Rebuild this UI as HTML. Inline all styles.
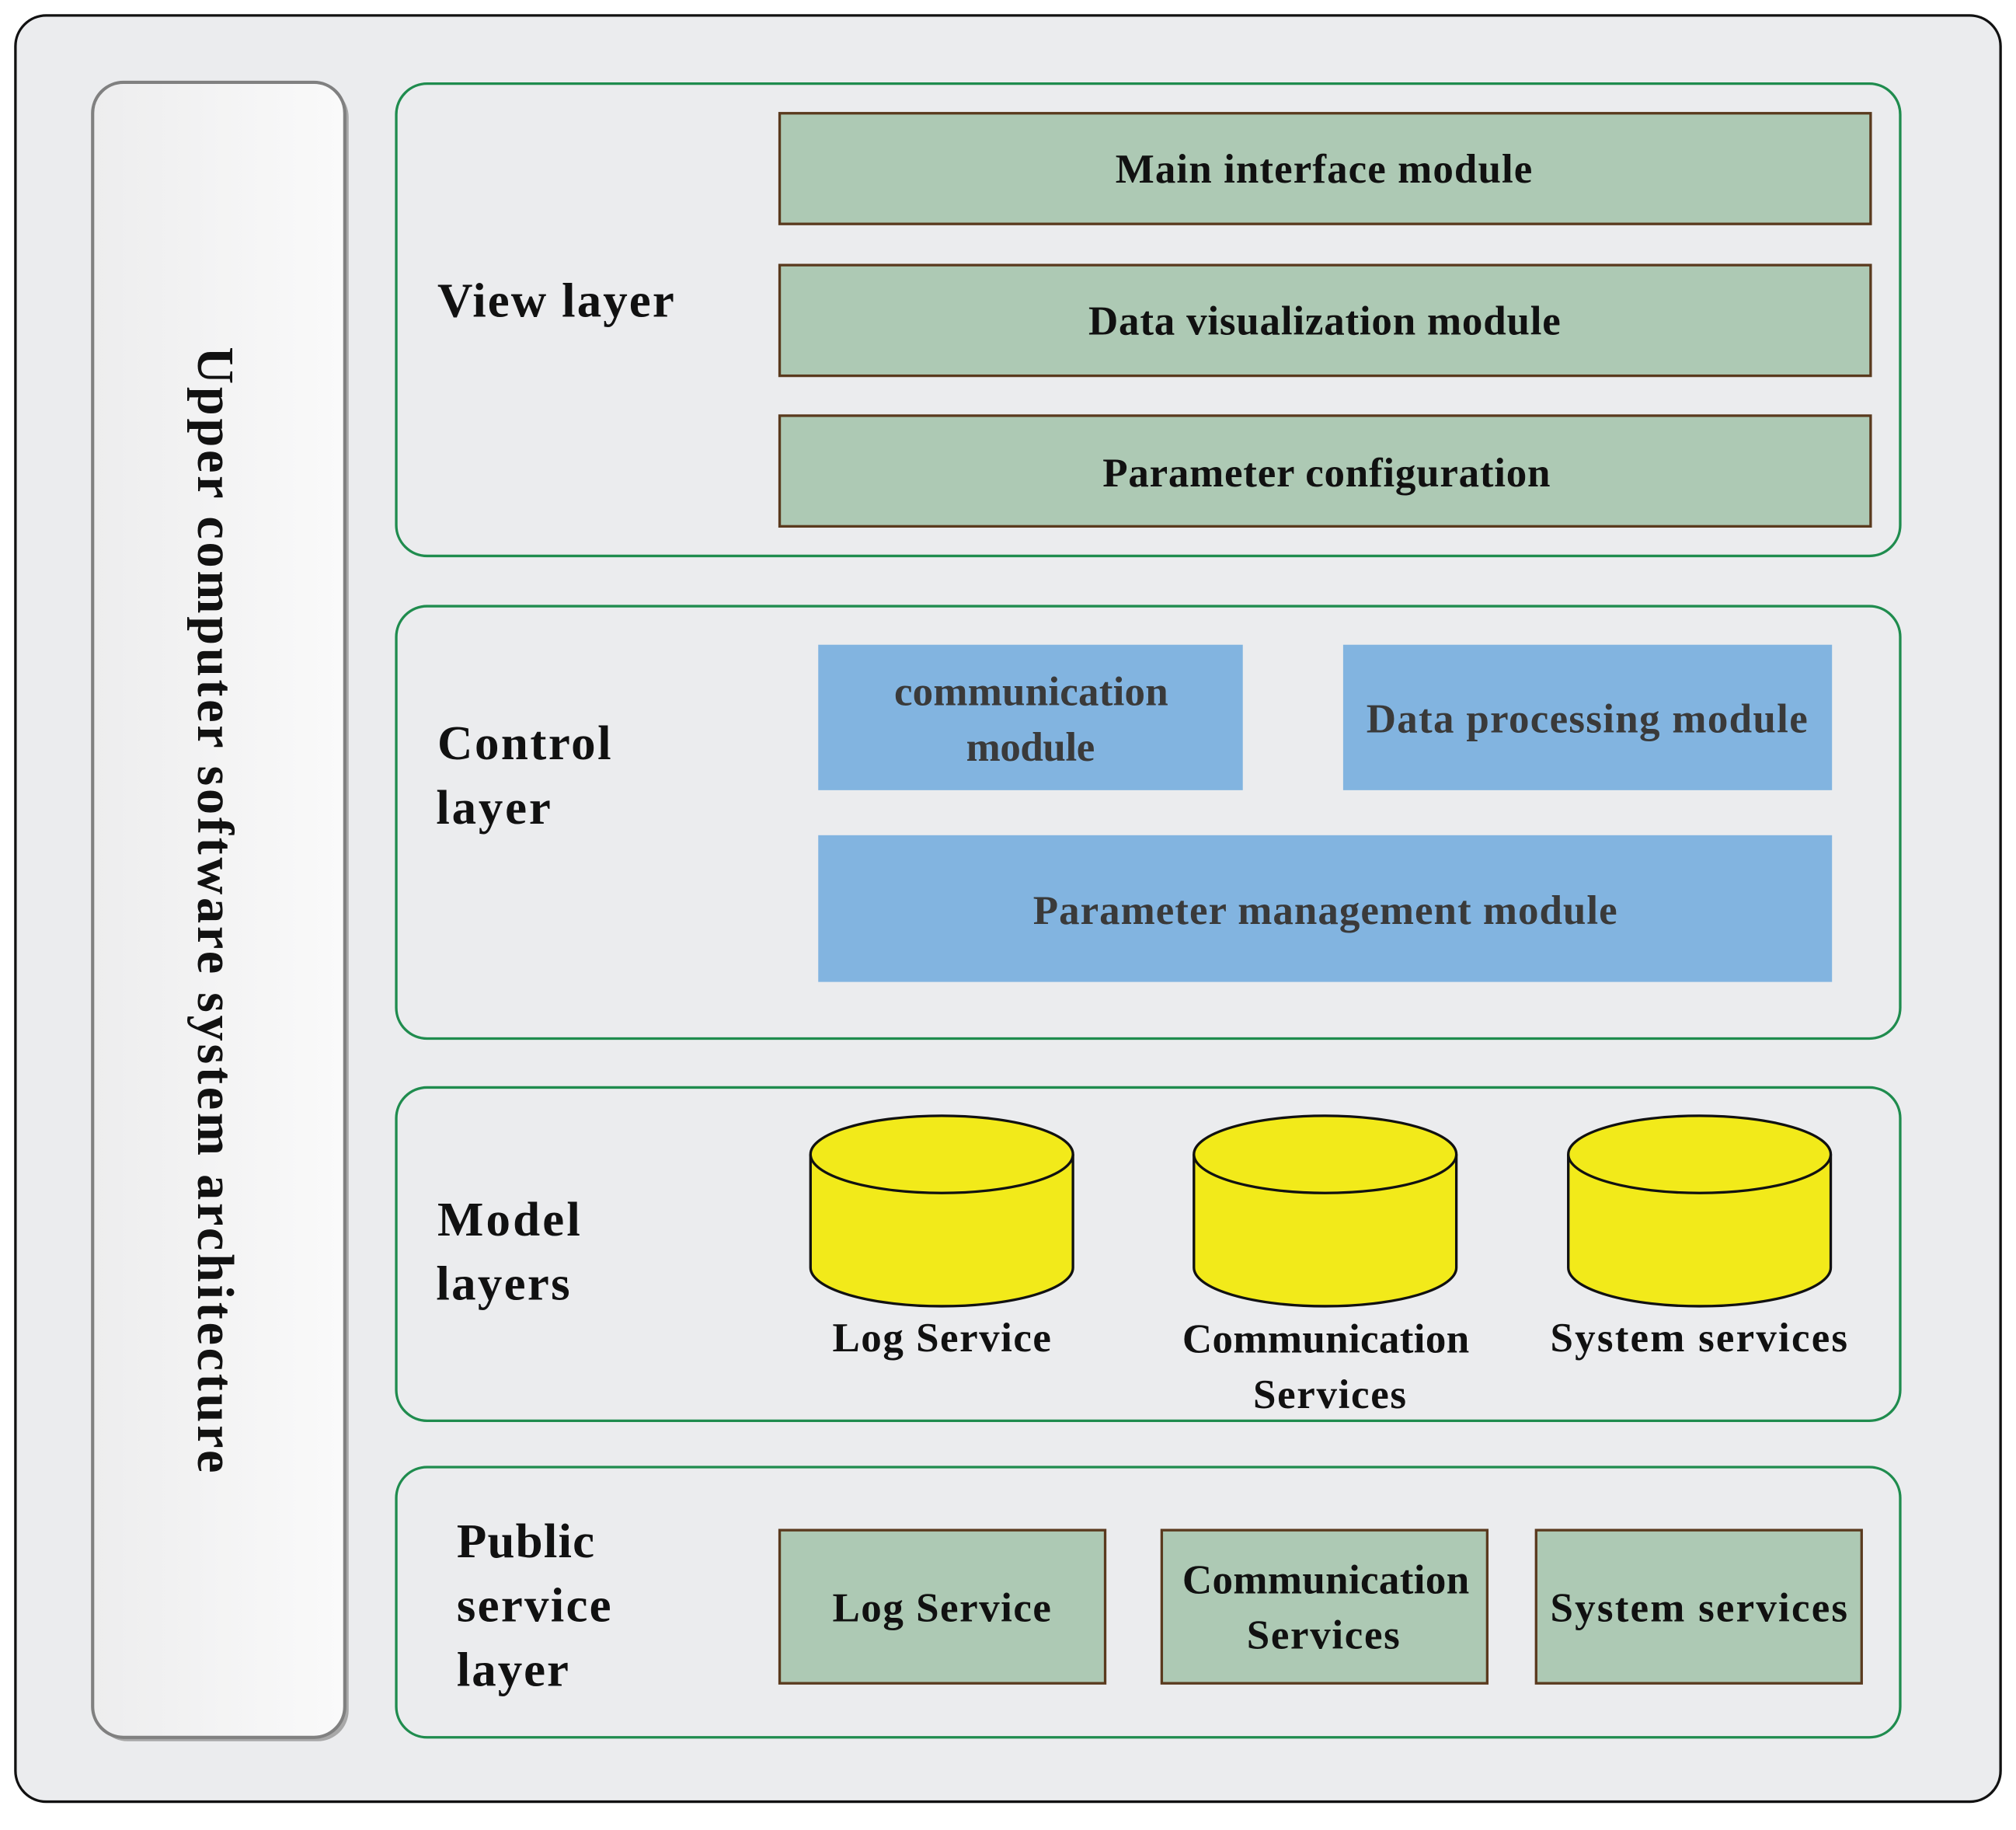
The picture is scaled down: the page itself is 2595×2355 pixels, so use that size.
<!DOCTYPE html>
<html><head><meta charset="utf-8"><style>
html,body{margin:0;padding:0;background:#fff}
svg{display:block}
text{font-family:"Liberation Serif",serif;font-weight:bold}
</style></head><body>
<svg width="2595" height="2355" viewBox="0 0 1567 1422" preserveAspectRatio="none" xmlns="http://www.w3.org/2000/svg">
<defs>
<linearGradient id="g" x1="0" x2="1" y1="0" y2="0"><stop offset="0" stop-color="#ededee"/><stop offset="1" stop-color="#fafafa"/></linearGradient>
</defs>
<rect x="12" y="12" width="1543" height="1388" rx="24" fill="#ebecee" stroke="#111" stroke-width="2"/>
<rect x="75" y="67" width="196" height="1286" rx="24" fill="#a8a8a8"/>
<rect x="72" y="64" width="196" height="1286" rx="24" fill="url(#g)" stroke="#808080" stroke-width="2.5"/>
<text transform="translate(154,707) rotate(90)" text-anchor="middle" font-size="40" fill="#111" textLength="875" lengthAdjust="spacing">Upper computer software system architecture</text>

<g fill="none" stroke="#1f8c4e" stroke-width="2">
<rect x="308" y="65" width="1169" height="367" rx="24"/>
<rect x="308" y="471" width="1169" height="336" rx="24"/>
<rect x="308" y="845" width="1169" height="259" rx="24"/>
<rect x="308" y="1140" width="1169" height="210" rx="24"/>
</g>
<g font-size="38" fill="#111" lengthAdjust="spacing">
<text x="340" y="246" textLength="184">View layer</text>
<text x="340" y="590" textLength="135">Control</text><text x="339" y="640" textLength="89">layer</text>
<text x="340" y="960" textLength="111">Model</text><text x="339" y="1010" textLength="104">layers</text>
<text x="355" y="1210" textLength="107">Public</text><text x="355" y="1260" textLength="120">service</text><text x="355" y="1310" textLength="87">layer</text>
</g>
<g fill="#adc9b4" stroke="#5a3a1e" stroke-width="2">
<rect x="606" y="88" width="848" height="86"/>
<rect x="606" y="206" width="848" height="86"/>
<rect x="606" y="323" width="848" height="86"/>
<rect x="606" y="1189" width="253" height="119"/>
<rect x="903" y="1189" width="253" height="119"/>
<rect x="1194" y="1189" width="253" height="119"/>
</g>
<g font-size="32" fill="#111" lengthAdjust="spacing">
<text x="867" y="142" textLength="324">Main interface module</text>
<text x="846" y="260" textLength="367">Data visualization module</text>
<text x="857" y="378" textLength="348">Parameter configuration</text>
<text x="647" y="1260" textLength="170">Log Service</text>
<text x="919" y="1238" textLength="223">Communication</text><text x="969" y="1281" textLength="119">Services</text>
<text x="1205" y="1260" textLength="231">System services</text>
</g>
<g fill="#82b4e0">
<rect x="636" y="501" width="330" height="113"/>
<rect x="1044" y="501" width="380" height="113"/>
<rect x="636" y="649" width="788" height="114"/>
</g>
<g font-size="32" fill="#3a3a3a" lengthAdjust="spacing">
<text x="695" y="548" textLength="213">communication</text><text x="751" y="591" textLength="100">module</text>
<text x="1062" y="569" textLength="343">Data processing module</text>
<text x="803" y="718" textLength="454">Parameter management module</text>
</g>
<g fill="#f2ea1a" stroke="#111" stroke-width="2">
<path d="M630,897 v88 a102,30 0 0 0 204,0 v-88"/><ellipse cx="732" cy="897" rx="102" ry="30"/>
<path d="M928,897 v88 a102,30 0 0 0 204,0 v-88"/><ellipse cx="1030" cy="897" rx="102" ry="30"/>
<path d="M1219,897 v88 a102,30 0 0 0 204,0 v-88"/><ellipse cx="1321" cy="897" rx="102" ry="30"/>
</g>
<g font-size="32" fill="#111" lengthAdjust="spacing">
<text x="647" y="1050" textLength="170">Log Service</text>
<text x="919" y="1051" textLength="223">Communication</text><text x="974" y="1094" textLength="119">Services</text>
<text x="1205" y="1050" textLength="231">System services</text>
</g>
</svg>
</body></html>
